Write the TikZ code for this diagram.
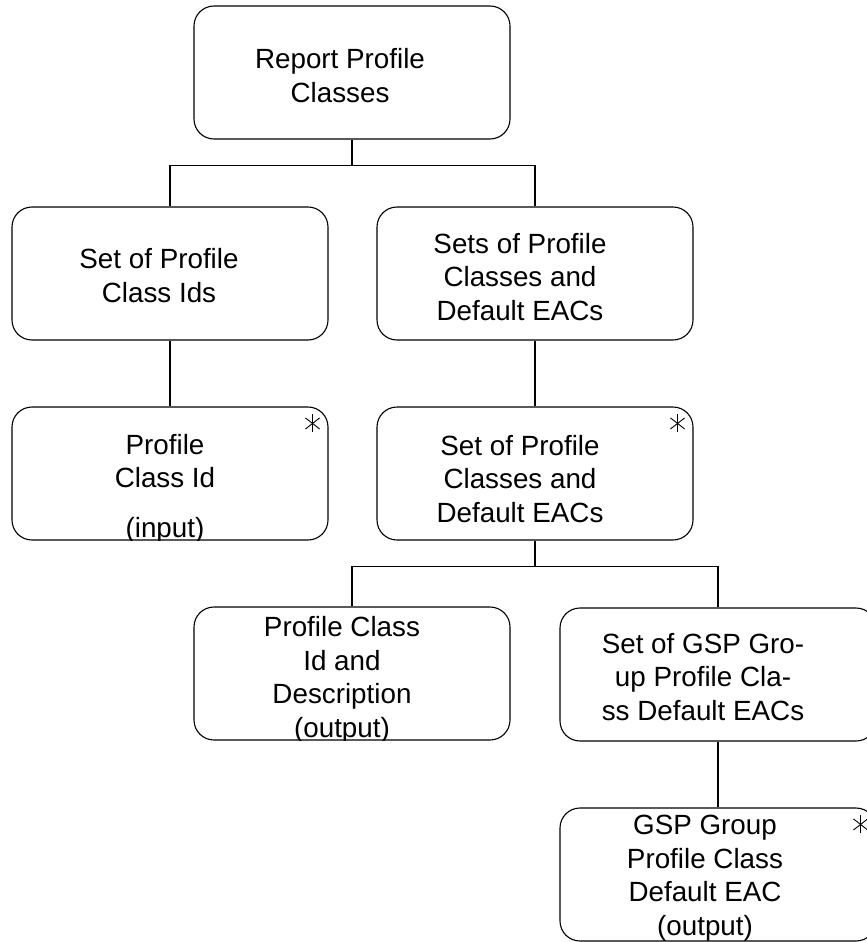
\documentclass[tikz,border=0pt]{standalone}
\usepackage{fontspec}
\setmainfont{Liberation Sans}
\usetikzlibrary{calc, positioning}

\begin{document}
\begin{tikzpicture}[
    x=1pt, y=-1pt,
    box/.style={draw, line width=1.1pt, rounded corners=20pt,
                minimum width=316pt, minimum height=133pt, inner sep=0pt},
    lab/.style={anchor=base, align=center, inner sep=0pt,
                font=\fontsize{27.8}{33.5}\selectfont},
    wire/.style={line width=1.1pt},
    star/.style={line width=0.9pt}
  ]
    \useasboundingbox (0,0) rectangle (867,942);
    \clip (0,0) rectangle (867,942);

    % Boxes
    \node[box] (rpc)    at (352, 72.5)  {};
    \node[box] (pcids)  at (170,273.5)  {};
    \node[box] (sets)   at (535,273.5)  {};
    \node[box] (pcid)   at (170,473.5)  {};
    \node[box] (set)    at (535,473.5)  {};
    \node[box] (desc)   at (352,673.5)  {};
    \node[box] (gspset) at (718,674.5)  {};
    \node[box] (gsp)    at (718,874.5)  {};

    % Box texts (placed by the baseline of their last line)
    \node[lab] (rpc-t)    at (340,102) {Report Profile\\Classes};
    \node[lab] (pcids-t)  at (159,302) {Set of Profile\\Class Ids};
    \node[lab] (sets-t)   at (520,320) {Sets of Profile\\Classes and\\Default EACs};
    \node[lab] (set-t)    at (520,522) {Set of Profile\\Classes and\\Default EACs};
    \node[lab] (gspset-t) at (703,720) {Set of GSP Gro-\\up Profile Cla-\\ss Default EACs};
    % texts that run past the bottom edge are cut off there
    \begin{scope}
      \clip (pcid.south west) rectangle (pcid.north east);
      \node[lab] (pcid-t) at (165,537) {Profile\\Class Id\\[16pt](input)};
    \end{scope}
    \begin{scope}
      \clip (desc.south west) rectangle (desc.north east);
      \node[lab] (desc-t) at (342,737) {Profile Class\\Id and\\Description\\(output)};
    \end{scope}
    \begin{scope}
      \clip (gsp.south west) rectangle (gsp.north east);
      \node[lab] (gsp-t) at (705,935) {GSP Group\\Profile Class\\Default EAC\\(output)};
    \end{scope}

    % Connectors
    \draw[wire] (rpc.south) -- ++(0,26) -| (pcids.north);
    \draw[wire] (rpc.south) ++(0,26) -| (sets.north);
    \draw[wire] (pcids) -- (pcid);
    \draw[wire] (sets) -- (set);
    \draw[wire] (set.south) -- ++(0,25.5) -| (desc.north);
    \draw[wire] (set.south) ++(0,25.5) -| (gspset.north);
    \draw[wire] (gspset) -- (gsp);

    % Repetition marks
    \foreach \n in {pcid, set, gsp}
      \foreach \a in {90, 38, 142}
        \draw[star] ([shift={(-16,17)}]\n.north east) ++(\a:9) -- ++(\a:-18);
  \end{tikzpicture}
\end{document}
